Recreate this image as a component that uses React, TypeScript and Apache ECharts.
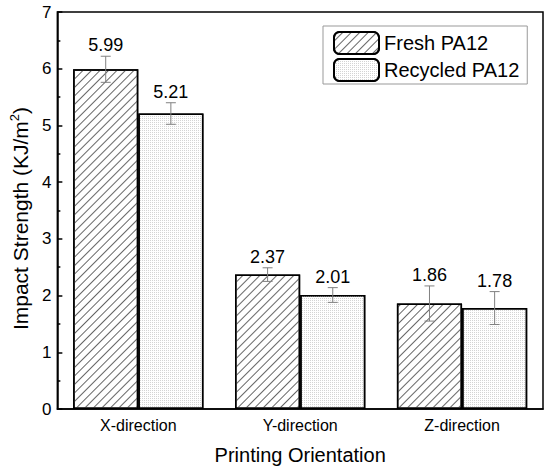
import React, { useEffect, useRef } from "react";
import * as echarts from "echarts";

const categories = ["X-direction", "Y-direction", "Z-direction"];
const freshValues = [5.99, 2.37, 1.86];
const freshErrors = [0.23, 0.12, 0.31];
const recycledValues = [5.21, 2.01, 1.78];
const recycledErrors = [0.19, 0.13, 0.29];
const seriesNames = ["Fresh PA12", "Recycled PA12"];

const FONT = "'Liberation Sans', Arial, sans-serif";
const CAT_GAP = 0.195;

function errorSeries(values: number[], errors: number[], side: number) {
  return {
    type: "custom",
    silent: true,
    z: 10,
    data: values.map((v, i) => [i, v, errors[i]]),
    renderItem: (params: any, api: any) => {
      const ci = api.value(0);
      const v = api.value(1);
      const e = api.value(2);
      const band = api.size([1, 0])[0];
      const barW = (band * (1 - CAT_GAP)) / 2;
      const cx = api.coord([ci, 0])[0] + (side * barW) / 2;
      const top = api.coord([ci, v + e])[1];
      const bot = api.coord([ci, v - e])[1];
      const cap = 5;
      const ls = { stroke: "#808080", lineWidth: 1 };
      return {
        type: "group",
        children: [
          { type: "line", shape: { x1: cx, y1: top, x2: cx, y2: bot }, style: ls },
          { type: "line", shape: { x1: cx - cap, y1: top, x2: cx + cap, y2: top }, style: ls },
          { type: "line", shape: { x1: cx - cap, y1: bot, x2: cx + cap, y2: bot }, style: ls },
          {
            type: "text",
            style: {
              text: v.toFixed(2),
              x: cx,
              y: top - 2,
              align: "center",
              verticalAlign: "bottom",
              fontSize: 18,
              fontFamily: FONT,
              fill: "#000",
            },
          },
        ],
      };
    },
  };
}

export default function App() {
  const ref = useRef<HTMLDivElement>(null);
  useEffect(() => {
    document.body.style.margin = "0";
    const chart = echarts.init(ref.current!, null, { renderer: "svg" });
    chart.setOption({
      animation: false,
      backgroundColor: "#fff",
      textStyle: { fontFamily: FONT },
      grid: {
        left: 52,
        right: 7,
        top: 12,
        bottom: 62,
        show: true,
        borderColor: "#000",
        borderWidth: 1.5,
        backgroundColor: "transparent",
      },
      legend: {
        data: seriesNames,
        orient: "vertical",
        left: 323,
        top: 26,
        itemWidth: 45,
        itemHeight: 22,
        itemGap: 3,
        padding: [5, 8, 2, 10],
        borderColor: "#999",
        borderWidth: 1,
        backgroundColor: "#fff",
        textStyle: { fontSize: 20, color: "#000", fontFamily: FONT },
      },
      xAxis: {
        type: "category",
        data: categories,
        name: "Printing Orientation",
        nameLocation: "middle",
        nameGap: 36,
        nameTextStyle: { fontSize: 20, color: "#000", fontFamily: FONT },
        axisLine: { lineStyle: { color: "#000", width: 1.5 } },
        axisTick: { inside: true, length: 4, lineStyle: { color: "#000", width: 1.5 } },
        axisLabel: { fontSize: 16, color: "#000", margin: 8, fontFamily: FONT },
      },
      yAxis: {
        type: "value",
        min: 0,
        max: 7,
        interval: 1,
        name: "{a|Impact Strength (KJ/m}{s|2}{a|)}",
        nameLocation: "middle",
        nameGap: 21,
        nameTextStyle: {
          color: "#000",
          fontFamily: FONT,
          padding: [0, 16, 0, 0],
          rich: {
            a: { fontSize: 21, color: "#000", fontFamily: FONT, lineHeight: 25 },
            s: { fontSize: 13, color: "#000", fontFamily: FONT, verticalAlign: "top" },
          },
        },
        splitLine: { show: false },
        axisLine: { show: true, lineStyle: { color: "#000", width: 1.5 } },
        axisTick: { show: true, inside: true, length: 5, lineStyle: { color: "#000", width: 1.5 } },
        minorTick: { show: true, splitNumber: 2, length: 3, lineStyle: { color: "#000", width: 1.5 } },
        axisLabel: { fontSize: 17, color: "#000", margin: 6, fontFamily: FONT },
      },
      series: [
        {
          name: seriesNames[0],
          type: "bar",
          data: freshValues,
          barGap: "0%",
          barCategoryGap: CAT_GAP * 100 + "%",
          itemStyle: {
            color: "#fff",
            borderColor: "#000",
            borderWidth: 1.5,
            decal: {
              symbol: "rect",
              symbolSize: 1,
              color: "#666",
              dashArrayX: [1, 0],
              dashArrayY: [1, 5],
              rotation: -Math.PI / 4,
            },
          },
        },
        {
          name: seriesNames[1],
          type: "bar",
          data: recycledValues,
          barGap: "0%",
          barCategoryGap: CAT_GAP * 100 + "%",
          itemStyle: {
            color: "#fff",
            borderColor: "#000",
            borderWidth: 1.5,
            decal: {
              symbol: "rect",
              symbolSize: 1,
              color: "#d4d4d4",
              dashArrayX: [1, 1],
              dashArrayY: [1, 1],
              rotation: 0,
            },
          },
        },
        errorSeries(freshValues, freshErrors, -1),
        errorSeries(recycledValues, recycledErrors, 1),
      ],
    });
    return () => chart.dispose();
  }, []);
  return <div ref={ref} style={{ width: 550, height: 471 }} />;
}
